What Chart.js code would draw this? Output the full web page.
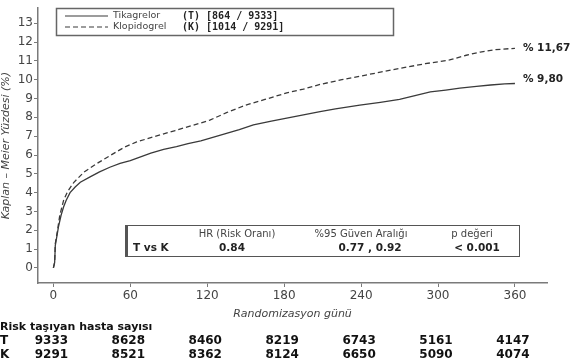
<!DOCTYPE html>
<html>
<head>
<meta charset="utf-8">
<script src="https://cdn.jsdelivr.net/npm/chart.js@4"></script>
<style>
    html, body { margin: 0; padding: 0; background: #fff; }
    #wrap { width: 588px; height: 358px; }
</style>
</head>
<body>
<div id="wrap"><canvas id="kmChart" width="588" height="358"></canvas></div>
<script>
// Tick labels (days) and patients at risk
const dayTicks = [0, 60, 120, 180, 240, 300, 360];
const riskT = [9333, 8628, 8460, 8219, 6743, 5161, 4147];
const riskK = [9291, 8521, 8362, 8124, 6650, 5090, 4074];

// Kaplan-Meier curves
const tikaDays = [0, 1, 1.5, 3, 4, 6, 8, 10, 13, 17, 21, 29, 36, 44, 52, 60, 68, 76, 86, 96, 105, 115, 125, 135, 145, 156, 170, 185, 196, 208, 220, 239, 255, 270, 282, 294, 306, 317, 330, 341, 352, 360];
const tikaPct  = [0, 0.3, 1.2, 1.8, 2.2, 2.8, 3.25, 3.6, 4.0, 4.3, 4.55, 4.85, 5.1, 5.35, 5.55, 5.7, 5.9, 6.1, 6.3, 6.45, 6.6, 6.75, 6.95, 7.15, 7.35, 7.6, 7.8, 8.0, 8.15, 8.3, 8.45, 8.65, 8.8, 8.95, 9.15, 9.35, 9.45, 9.55, 9.65, 9.72, 9.78, 9.8];

const klopDays = [0, 1, 1.5, 3, 5, 8, 11, 16, 24, 34, 45, 55, 65, 80, 95, 110, 122, 135, 150, 165, 182, 195, 208, 225, 240, 255, 270, 290, 309, 322, 333, 345, 360];
const klopPct  = [0, 0.3, 1.3, 1.9, 2.8, 3.6, 4.05, 4.55, 5.1, 5.55, 6.0, 6.4, 6.7, 7.0, 7.3, 7.6, 7.85, 8.25, 8.65, 8.95, 9.3, 9.5, 9.75, 10.0, 10.2, 10.4, 10.6, 10.85, 11.05, 11.3, 11.47, 11.6, 11.67];

const yTicks = [0, 1, 2, 3, 4, 5, 6, 7, 8, 9, 10, 11, 12, 13];

const legendRows = [
    { name: 'Tikagrelor', tag: '(T) [864 / 9333]', dash: [] },
    { name: 'Klopidogrel', tag: '(K) [1014 / 9291]', dash: [5, 3] }
];
const endLabels = ['% 9,80', '% 11,67'];

const LINE_COLOR = '#3a3a3a';
const AXIS_COLOR = '#7a7a7a';
const TEXT_COLOR = '#444';

function toPoints(xs, ys) {
    return xs.map((x, i) => ({ x: x, y: ys[i] }));
}

// Legend box, stats box, end labels and the at-risk table
const annotations = {
    id: 'annotations',
    afterDraw(chart) {
        const ctx = chart.ctx;
        const xs = chart.scales.x;
        const ys = chart.scales.y;
        ctx.save();

        // Legend
        ctx.strokeStyle = '#666';
        ctx.lineWidth = 1.5;
        ctx.strokeRect(56.5, 8.5, 337, 27);
        legendRows.forEach((row, i) => {
            const y = 16 + i * 11;
            ctx.beginPath();
            ctx.setLineDash(row.dash);
            ctx.strokeStyle = LINE_COLOR;
            ctx.lineWidth = 1.2;
            ctx.moveTo(65, y);
            ctx.lineTo(108, y);
            ctx.stroke();
            ctx.setLineDash([]);
            ctx.fillStyle = TEXT_COLOR;
            ctx.textBaseline = 'middle';
            ctx.textAlign = 'left';
            ctx.font = '9.5px "DejaVu Sans"';
            ctx.fillText(row.name, 113, y);
            ctx.font = 'bold 10px "DejaVu Sans Mono"';
            ctx.fillStyle = '#222';
            ctx.fillText(row.tag, 182, y);
        });

        // End labels
        ctx.font = 'bold 10.5px "DejaVu Sans"';
        ctx.fillStyle = '#222';
        ctx.textAlign = 'left';
        ctx.fillText(endLabels[0], xs.getPixelForValue(360) + 8, ys.getPixelForValue(tikaPct[tikaPct.length - 1]) - 4);
        ctx.fillText(endLabels[1], xs.getPixelForValue(360) + 8, ys.getPixelForValue(klopPct[klopPct.length - 1]));

        // HR box
        ctx.fillStyle = '#fff';
        ctx.fillRect(125, 225, 395, 32);
        ctx.strokeStyle = '#555';
        ctx.lineWidth = 1;
        ctx.strokeRect(125.5, 225.5, 394, 31);
        ctx.lineWidth = 3;
        ctx.beginPath();
        ctx.moveTo(126.5, 225);
        ctx.lineTo(126.5, 257);
        ctx.stroke();

        ctx.textAlign = 'center';
        ctx.fillStyle = TEXT_COLOR;
        ctx.font = '10px "DejaVu Sans"';
        ctx.fillText('HR (Risk Oranı)', 237, 234);
        ctx.fillText('%95 Güven Aralığı', 361, 234);
        ctx.fillText('p değeri', 472, 234);
        ctx.font = 'bold 10.5px "DejaVu Sans"';
        ctx.fillStyle = '#222';
        ctx.textAlign = 'left';
        ctx.fillText('T vs K', 133, 248);
        ctx.textAlign = 'center';
        ctx.fillText('0.84', 232, 248);
        ctx.fillText('0.77 , 0.92', 370, 248);
        ctx.fillText('< 0.001', 477, 248);

        // Patients at risk
        ctx.fillStyle = '#111';
        ctx.textAlign = 'left';
        ctx.font = 'bold 11px "DejaVu Sans"';
        ctx.fillText('Risk taşıyan hasta sayısı', 0, 327);
        ctx.font = 'bold 12px "DejaVu Sans"';
        ctx.fillText('T', 0, 341);
        ctx.fillText('K', 0, 355);
        ctx.textAlign = 'center';
        dayTicks.forEach((d, i) => {
            const px = xs.getPixelForValue(d) - 2;
            ctx.fillText(String(riskT[i]), px, 341);
            ctx.fillText(String(riskK[i]), px, 355);
        });

        ctx.restore();
    }
};

const ctx = document.getElementById('kmChart').getContext('2d');

new Chart(ctx, {
    type: 'line',
    data: {
        datasets: [
            {
                label: 'Tikagrelor',
                data: toPoints(tikaDays, tikaPct),
                borderColor: LINE_COLOR,
                borderWidth: 1.3,
                pointRadius: 0,
                tension: 0,
                fill: false
            },
            {
                label: 'Klopidogrel',
                data: toPoints(klopDays, klopPct),
                borderColor: LINE_COLOR,
                borderWidth: 1.3,
                borderDash: [5, 3],
                pointRadius: 0,
                tension: 0,
                fill: false
            }
        ]
    },
    options: {
        responsive: false,
        animation: false,
        layout: {
            padding: { top: 8, right: 41, bottom: 36, left: 0 }
        },
        plugins: {
            legend: { display: false },
            tooltip: { enabled: false }
        },
        scales: {
            x: {
                type: 'linear',
                min: -12,
                max: 385,
                afterBuildTicks: (scale) => {
                    scale.ticks = dayTicks.map(v => ({ value: v }));
                },
                afterFit: (scale) => { scale.height = 39; },
                grid: { drawOnChartArea: false, drawTicks: true, tickLength: 4, color: AXIS_COLOR },
                border: { display: true, color: AXIS_COLOR, width: 1.5 },
                ticks: { color: TEXT_COLOR, font: { family: 'DejaVu Sans', size: 12 }, padding: 2, maxRotation: 0 },
                title: {
                    display: true,
                    text: 'Randomizasyon günü',
                    color: TEXT_COLOR,
                    font: { family: 'DejaVu Sans', size: 11, style: 'italic' },
                    padding: { top: 0, bottom: 1 }
                }
            },
            y: {
                min: -0.8,
                max: 13.8,
                afterBuildTicks: (scale) => {
                    scale.ticks = yTicks.map(v => ({ value: v }));
                },
                afterFit: (scale) => { scale.width = 38; },
                grid: { drawOnChartArea: false, drawTicks: true, tickLength: 4, color: AXIS_COLOR },
                border: { display: true, color: AXIS_COLOR, width: 1.5 },
                ticks: { color: TEXT_COLOR, font: { family: 'DejaVu Sans', size: 12 }, padding: 1 },
                title: {
                    display: true,
                    text: 'Kaplan – Meier Yüzdesi (%)',
                    color: TEXT_COLOR,
                    font: { family: 'DejaVu Sans', size: 11, style: 'italic' },
                    padding: { top: 0, bottom: 0 }
                }
            }
        }
    },
    plugins: [annotations]
});
</script>
</body>
</html>
